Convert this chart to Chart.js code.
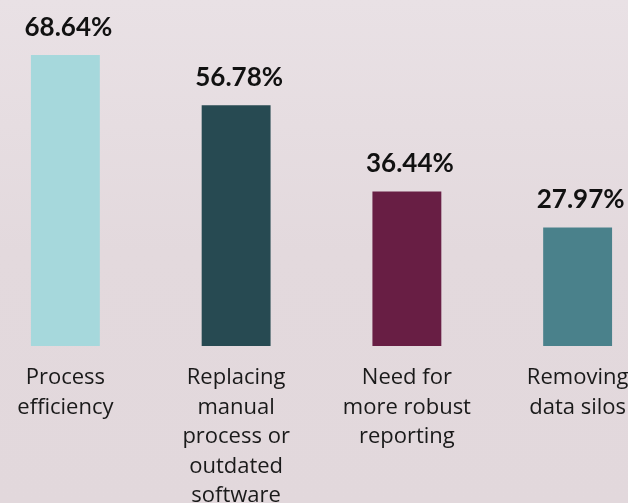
<!DOCTYPE html>
<html>
<head>
<meta charset="utf-8">
<script src="https://cdn.jsdelivr.net/npm/chart.js@4"></script>
<style>
  html, body { margin: 0; padding: 0; width: 628px; height: 503px; overflow: hidden; }
  body { background: linear-gradient(to bottom, #e9e1e5 0%, #e3d9dd 50%, #e2d8dc 100%); }
  #wrap { position: absolute; left: -20px; top: 0; width: 683px; height: 503px; }
</style>
</head>
<body>
<div id="wrap"><canvas id="c"></canvas></div>
<script>
const categories = [
  ["Process", "efficiency"],
  ["Replacing", "manual", "process or", "outdated", "software"],
  ["Need for", "more robust", "reporting"],
  ["Removing", "data silos"]
];
const values = [68.64, 56.78, 36.44, 27.97];
const barColors = ["#a6d8dc", "#274a52", "#681e44", "#4a818b"];

const valueLabels = {
  id: 'valueLabels',
  afterDatasetsDraw(chart) {
    const ctx = chart.ctx;
    const meta = chart.getDatasetMeta(0);
    ctx.save();
    ctx.fillStyle = '#111111';
    ctx.font = 'bold 26px Lato, "Open Sans", sans-serif';
    ctx.textAlign = 'center';
    ctx.textBaseline = 'alphabetic';
    meta.data.forEach((bar, i) => {
      ctx.fillText(values[i].toFixed(2) + '%', bar.x + 3, bar.y - 19);
    });
    ctx.restore();
  }
};

new Chart(document.getElementById('c'), {
  type: 'bar',
  data: {
    labels: categories,
    datasets: [{
      data: values,
      backgroundColor: barColors,
      borderWidth: 0,
      barPercentage: 0.5,
      categoryPercentage: 0.807
    }]
  },
  options: {
    responsive: true,
    maintainAspectRatio: false,
    animation: false,
    layout: { padding: 0 },
    plugins: { legend: { display: false }, tooltip: { enabled: false } },
    scales: {
      y: { display: false, min: 0, max: 81.6 },
      x: {
        offset: true,
        grid: { display: false, drawTicks: false },
        border: { display: false },
        ticks: {
          color: '#1a1a1a',
          font: { family: '"Open Sans", Lato, sans-serif', size: 22, lineHeight: 29.5 / 22 },
          padding: 17,
          maxRotation: 0,
          autoSkip: false
        },
        afterFit(scale) { scale.height = 157; }
      }
    }
  },
  plugins: [valueLabels]
});
</script>
</body>
</html>
